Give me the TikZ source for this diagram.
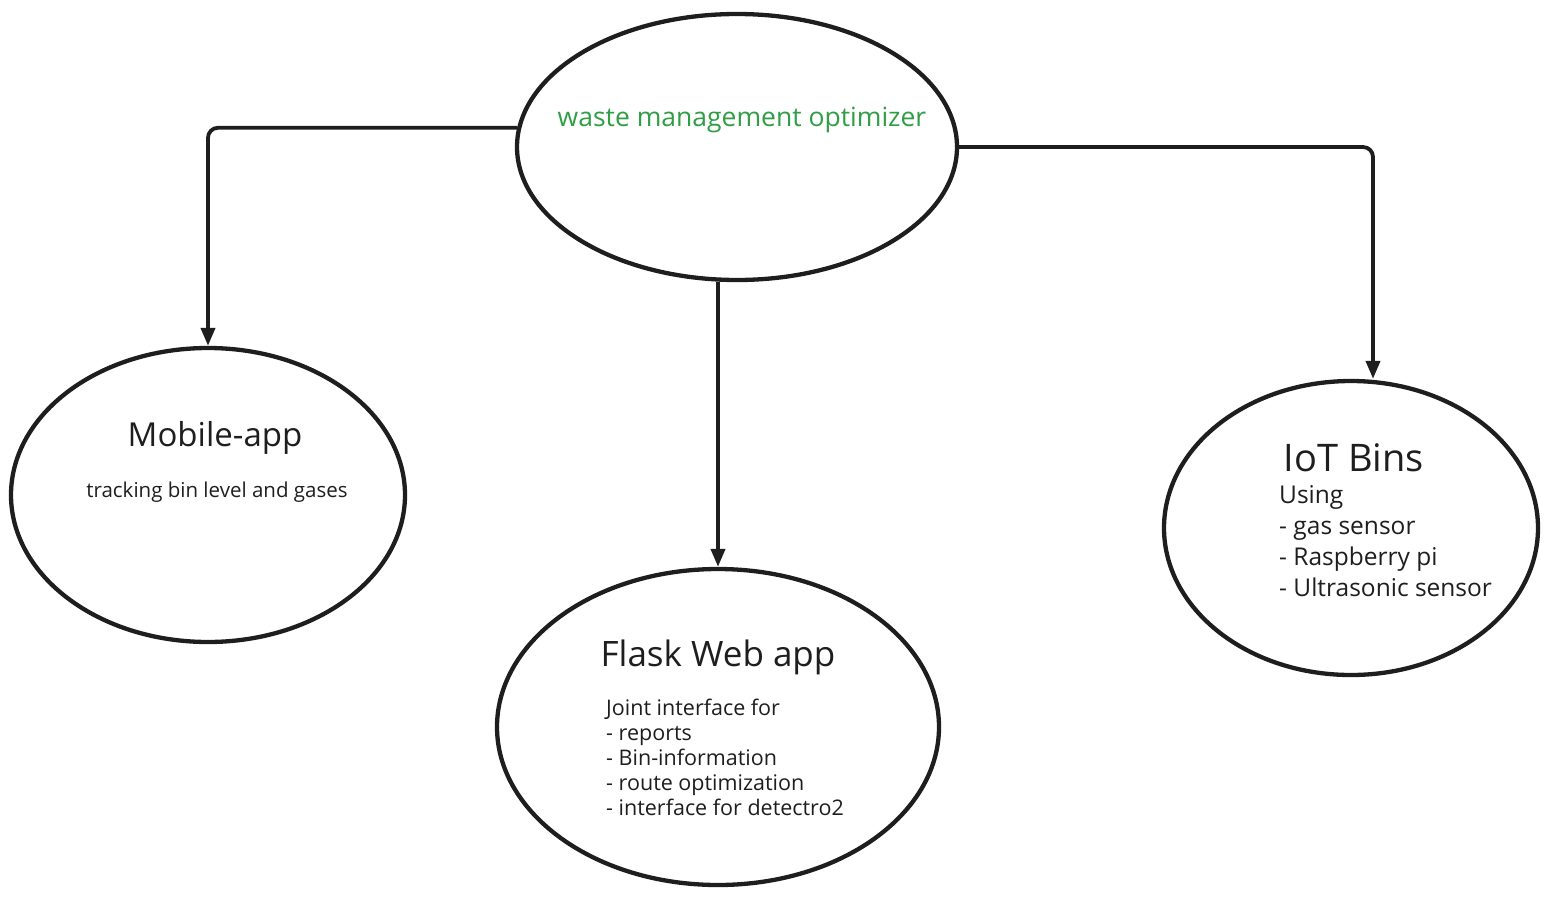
\documentclass[tikz,border=0pt]{standalone}
\usepackage{fontspec}
\setmainfont{Open Sans}
\usetikzlibrary{shapes.geometric,arrows.meta}
\definecolor{ink}{HTML}{1E1E1E}
\definecolor{exgreen}{HTML}{2F9E44}
\tikzset{
  bubble/.style={draw=ink, line width=4.3pt, ellipse, inner sep=0pt},
  link/.style={draw=ink, line width=3.8pt, rounded corners=10pt, -{Triangle[length=18pt,width=14pt]}},
  txt/.style={text=ink, inner sep=0pt},
}
\begin{document}
\begin{tikzpicture}[x=1pt,y=-1pt]
\useasboundingbox (0,0) rectangle (1546,899);
\node[bubble, minimum width=440pt, minimum height=266pt] (top) at (737,147) {};
\node[bubble, minimum width=394pt, minimum height=294pt] (mob) at (208,495) {};
\node[bubble, minimum width=442pt, minimum height=316pt] (flask) at (718,727) {};
\node[bubble, minimum width=374pt, minimum height=294pt] (iot) at (1351,528) {};

\node[txt, text=exgreen, font=\fontsize{26.5}{30}\selectfont] (title) at (742,120) {waste management optimizer};
\node[txt, font=\fontsize{33}{38}\selectfont] (mobt) at (215,438) {Mobile-app};
\node[txt, font=\fontsize{20.5}{24}\selectfont] (mobd) at (217,492) {tracking bin level and gases};
\node[txt, font=\fontsize{35}{40}\selectfont] (flaskt) at (718,657) {Flask Web app};
\node[txt, anchor=north west, align=left, font=\fontsize{21.5}{25}\selectfont] (flaskd) at (606,699) {Joint interface for\\- reports\\- Bin-information\\- route optimization\\- interface for detectro2};
\node[txt, font=\fontsize{38}{42}\selectfont] (iott) at (1354,458) {IoT Bins};
\node[txt, anchor=north west, align=left, font=\fontsize{24.5}{31}\selectfont] (iotd) at (1279,485) {Using\\- gas sensor\\- Raspberry pi\\- Ultrasonic sensor};

\draw[link] (top.175.5) -| (mob.north);
\draw[link] (top.south -| flask.north) -- (flask.north);
\coordinate (iotin) at ([xshift=22pt]iot.north);
\draw[link] (top.east) -| (iotin);
\end{tikzpicture}
\end{document}
